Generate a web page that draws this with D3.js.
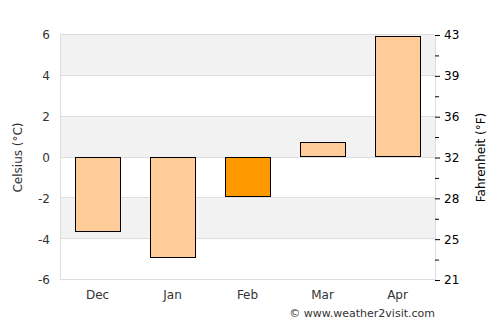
<!DOCTYPE html>
<html>
<head>
<meta charset="utf-8">
<script src="https://cdn.jsdelivr.net/npm/d3@7"></script>
<style>
  body { margin: 0; background: #fff; }
  text { font-family: "DejaVu Sans", sans-serif; }
</style>
</head>
<body>
<svg id="chart" width="500" height="325"></svg>
<script>
"use strict";
// chart data
const months = ["Dec", "Jan", "Feb", "Mar", "Apr"];
const celsius = [-3.6, -4.9, -1.9, 0.7, 5.9];
const highlight = ["Feb"];
const celsiusTicks = [-6, -4, -2, 0, 2, 4, 6];
const fahrenheitLabels = ["21", "25", "28", "32", "36", "39", "43"];
const minorTicks = [-5, -3, -1, 1, 3, 5];

(function() {
  const svg = d3.select("#chart");
  const margin = {top: 35, right: 65, bottom: 45, left: 60};
  const width = 500 - margin.left - margin.right,
        height = 325 - margin.top - margin.bottom;

  const x = d3.scaleBand()
    .domain(months)
    .range([margin.left, margin.left + width])
    .paddingInner(0.4)
    .paddingOuter(0.2);

  const y = d3.scaleLinear()
    .domain([-6, 6])
    .range([margin.top + height, margin.top]);

  // alternating bands
  for (let i = 0; i < celsiusTicks.length - 1; i++) {
    const lo = celsiusTicks[i], hi = celsiusTicks[i + 1];
    if (i % 2 === 1) {
      svg.append("rect")
        .attr("x", margin.left)
        .attr("y", y(hi))
        .attr("width", width)
        .attr("height", y(lo) - y(hi))
        .attr("fill", "#f2f2f2");
    }
  }

  // grid lines
  svg.append("g").selectAll("line")
    .data(celsiusTicks)
    .enter().append("line")
      .attr("x1", margin.left)
      .attr("x2", margin.left + width)
      .attr("y1", d => Math.round(y(d)) - 0.5)
      .attr("y2", d => Math.round(y(d)) - 0.5)
      .attr("stroke", "#dddddd");

  // frame sides
  [margin.left, margin.left + width].forEach(px => {
    svg.append("line")
      .attr("x1", px + 0.5).attr("x2", px + 0.5)
      .attr("y1", margin.top).attr("y2", margin.top + height)
      .attr("stroke", "#dddddd");
  });

  // bars
  svg.append("g").selectAll("rect")
    .data(months)
    .enter().append("rect")
      .attr("x", d => Math.round(x(d)) + 0.5)
      .attr("y", (d, i) => Math.round(y(Math.max(0, celsius[i]))) - 0.5)
      .attr("width", Math.round(x.bandwidth()))
      .attr("height", (d, i) => Math.round(Math.abs(y(celsius[i]) - y(0))))
      .attr("fill", d => highlight.includes(d) ? "#ff9900" : "#ffcc99")
      .attr("stroke", "#000")
      .attr("stroke-width", 1);

  // left axis
  const leftAxis = d3.axisLeft(y).tickValues(celsiusTicks).tickSize(0).tickPadding(10)
    .tickFormat(d => String(d));
  const gl = svg.append("g").attr("transform", `translate(${margin.left},0)`).call(leftAxis);
  gl.select(".domain").remove();
  gl.selectAll("text").attr("font-size", 12).attr("fill", "#333").style("font-family", "DejaVu Sans");

  // right axis
  const rightAxis = d3.axisRight(y).tickValues(celsiusTicks)
    .tickFormat((d, i) => fahrenheitLabels[i]).tickSize(5).tickPadding(4);
  const gr = svg.append("g").attr("transform", `translate(${margin.left + width},0)`).call(rightAxis);
  gr.select(".domain").remove();
  gr.selectAll("line").attr("stroke", "#000");
  gr.selectAll("text").attr("font-size", 12).attr("fill", "#000").style("font-family", "DejaVu Sans");
  const rightMinor = d3.axisRight(y).tickValues(minorTicks).tickSize(4).tickFormat("");
  const grm = svg.append("g").attr("transform", `translate(${margin.left + width},0)`).call(rightMinor);
  grm.select(".domain").remove();
  grm.selectAll("line").attr("stroke", "#000");

  // bottom axis
  const bottomAxis = d3.axisBottom(x).tickSize(0).tickPadding(10);
  const gb = svg.append("g").attr("transform", `translate(0,${margin.top + height})`).call(bottomAxis);
  gb.select(".domain").remove();
  gb.selectAll("text").attr("font-size", 12).attr("fill", "#333").style("font-family", "DejaVu Sans");

  // axis titles
  svg.append("text")
    .attr("transform", `translate(22,${y(0)}) rotate(-90)`)
    .attr("text-anchor", "middle")
    .attr("font-size", 12)
    .attr("fill", "#333")
    .text("Celsius (°C)");
  svg.append("text")
    .attr("transform", `translate(485,${y(0)}) rotate(-90)`)
    .attr("text-anchor", "middle")
    .attr("font-size", 12)
    .attr("fill", "#000")
    .text("Fahrenheit (°F)");

  svg.append("text")
    .attr("x", margin.left + width)
    .attr("y", 317)
    .attr("text-anchor", "end")
    .attr("font-size", 11)
    .attr("fill", "#333")
    .text("© www.weather2visit.com");
})();
</script>
</body>
</html>
